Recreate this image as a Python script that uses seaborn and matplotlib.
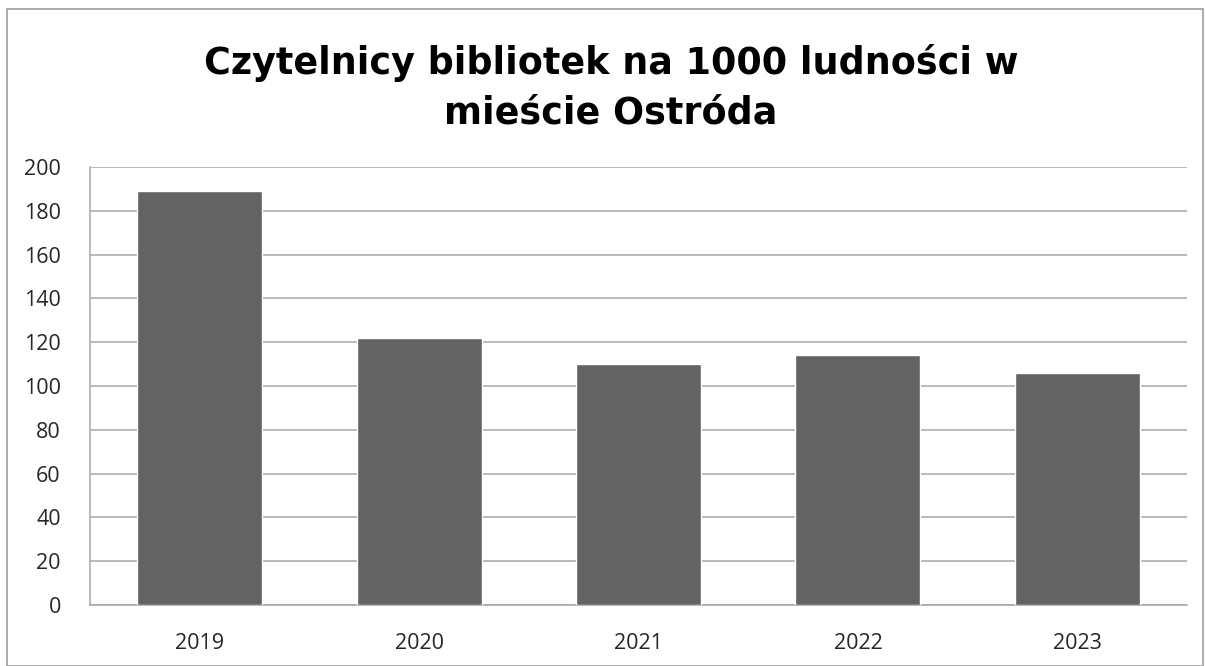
import matplotlib
matplotlib.use("Agg")
import matplotlib.pyplot as plt
import matplotlib.patches as patches
import seaborn as sns
import pandas as pd

# values
years = ["2019", "2020", "2021", "2022", "2023"]
readers = [189, 122, 110, 114, 106]
yticks = [0, 20, 40, 60, 80, 100, 120, 140, 160, 180, 200]
title_lines = ["Czytelnicy bibliotek na 1000 ludności w", "mieście Ostróda"]

df = pd.DataFrame({"year": years, "readers": readers})

sns.set_theme(style="white")
plt.rcParams["font.family"] = ["Open Sans", "DejaVu Sans"]

W, H = 1205, 666
fig = plt.figure(figsize=(W / 100, H / 100), dpi=100)
ax = fig.add_axes([90 / W, 1 - 605 / H, 1097 / W, 438 / H])

sns.barplot(data=df, x="year", y="readers", color="#636363", saturation=1,
            width=0.57, ax=ax, zorder=3)

ax.set_ylim(0, 200)
ax.set_yticks(yticks)
ax.set_yticklabels([str(t) for t in yticks], fontsize=15.5)
ax.set_xticks(range(len(years)))
ax.set_xticklabels(years, fontsize=15.5)
ax.set_xlabel("")
ax.set_ylabel("")
ax.yaxis.grid(True, color="#a6a6a6", linewidth=1.1, zorder=0)
ax.tick_params(axis="x", length=0, pad=20)
ax.tick_params(axis="y", length=0, pad=21)
for s in ["top", "right"]:
    ax.spines[s].set_visible(False)
for s in ["left", "bottom"]:
    ax.spines[s].set_color("#a6a6a6")
    ax.spines[s].set_linewidth(1.1)

# title, two centred lines
for line, base in zip(title_lines, [74, 124]):
    fig.text(611 / W, 1 - base / H, line, ha="center", va="baseline",
             fontsize=26.3, fontweight="bold", family=["DejaVu Sans"],
             color="black")

# outer chart border
fig.patches.append(patches.Rectangle((7 / W, 0), 1196 / W, 1 - 9 / H,
                                     transform=fig.transFigure, fill=False,
                                     edgecolor="#a6a6a6", linewidth=1.3))

fig.savefig("out.png", dpi=100)
